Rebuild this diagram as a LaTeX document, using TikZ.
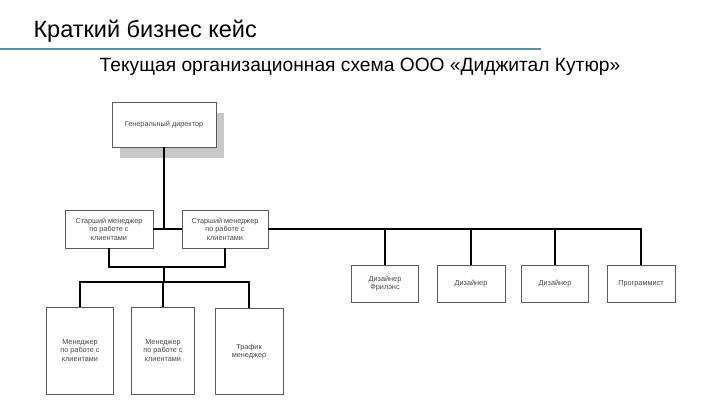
\documentclass[tikz,border=0pt]{standalone}
\usepackage{fontspec}
\setmainfont{Liberation Sans}
\usepackage{tikz}
\usetikzlibrary{positioning,shadows}
\definecolor{lineblue} {RGB}{96,140,168}
\definecolor{boxgray}  {RGB}{90,90,90}
\definecolor{textgray} {RGB}{70,70,70}
\definecolor{shadegray}{RGB}{200,200,200}

\begin{document}
\begin{tikzpicture}[
      x=1pt, y=-1pt,
      every node/.style={align=center},
      orgbox/.style={rectangle, draw=boxgray, fill=white, line width=0.6pt,
        text=textgray, font=\fontsize{7.3}{8.6}\selectfont, inner sep=1pt},
      link/.style={line width=1.6pt, black},
    ]
    \useasboundingbox (0,0) rectangle (720,405);

    % ── HEADER ──────────────────────────────────────────────────
    \node[anchor=west, font=\fontsize{23.5}{26}\selectfont] (title) at (30,31) {Краткий бизнес кейс};
    \draw[lineblue, line width=2.5pt] (0,49) -- (541,49);
    \node[font=\fontsize{19.2}{22}\selectfont] (subtitle) at (360,67) {Текущая организационная схема ООО «Диджитал Кутюр»};

    % ── TOP LEVEL ───────────────────────────────────────────────
    \node[orgbox, minimum width=104pt, minimum height=45pt,
      drop shadow={shadow xshift=8pt, shadow yshift=-11pt, fill=shadegray, opacity=1}]
      (gd) at (164,124.5) {Генеральный директор};

    % ── SENIOR MANAGERS ─────────────────────────────────────────
    \node[orgbox, minimum width=88pt, minimum height=38pt] (sm1) at (109,229) {Старший менеджер\\по работе с\\клиентами};
    \node[orgbox, minimum width=86pt, minimum height=38pt] (sm2) at (225,229) {Старший менеджер\\по работе с\\клиентами};

    % ── DESIGN / DEV ────────────────────────────────────────────
    \node[orgbox, minimum width=67pt, minimum height=37pt] (dfree) at (385,283.5) {Дизайнер\\Фрилэнс};
    \node[orgbox, minimum width=68pt, minimum height=37pt] (des1) at (471,283.5) {Дизайнер};
    \node[orgbox, minimum width=67pt, minimum height=37pt] (des2) at (555,283.5) {Дизайнер};
    \node[orgbox, minimum width=68pt, minimum height=37pt] (prog) at (641,283.5) {Программист};

    % ── MANAGERS ────────────────────────────────────────────────
    \node[orgbox, minimum width=67pt, minimum height=87pt] (mgr1) at (80,350.5) {Менеджер\\по работе с\\клиентами};
    \node[orgbox, minimum width=63pt, minimum height=87pt] (mgr2) at (163,350.5) {Менеджер\\по работе с\\клиентами};
    \node[orgbox, minimum width=68pt, minimum height=86pt] (traf) at (249,351.5) {Трафик\\менеджер};

    \coordinate (jmid) at (164,267);
    \coordinate (jlow) at (164,282);

    % ── CONNECTORS ──────────────────────────────────────────────
    \draw[link] (gd.south) -- (gd.south |- sm1.east);
    \draw[link] (sm1.east) -- (sm2.west);
    \draw[link] (sm2.east) -| (prog.north);
    \draw[link] (dfree.north) -- (dfree.north |- sm2.east);
    \draw[link] (des1.north) -- (des1.north |- sm2.east);
    \draw[link] (des2.north) -- (des2.north |- sm2.east);

    \draw[link] (sm1.south) |- (jmid) -| (sm2.south);
    \draw[link] (jmid) -- (jlow);
    \draw[link] (mgr1.north) |- (jlow) -| (traf.north);
    \draw[link] (jlow) -- (jlow -| mgr2.north) -- (mgr2.north);

\end{tikzpicture}
\end{document}
